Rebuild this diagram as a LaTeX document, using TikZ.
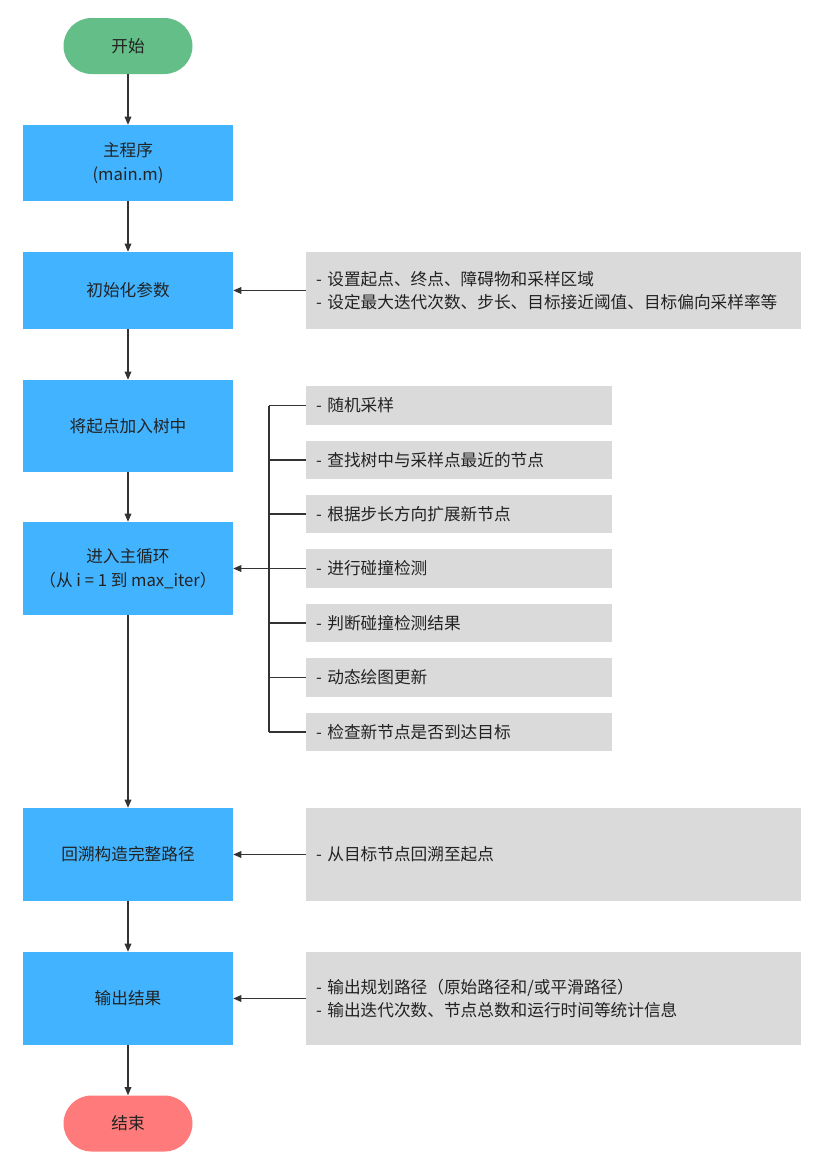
\documentclass[tikz,border=0pt]{standalone}
\usepackage{fontspec}
\setmainfont{Noto Sans CJK SC}
\usetikzlibrary{arrows.meta}
\definecolor{startgreen}{HTML}{63BE87}
\definecolor{stepblue}{HTML}{42B4FF}
\definecolor{notegray}{HTML}{DADADA}
\definecolor{endred}{HTML}{FF7B7B}
\definecolor{linegray}{HTML}{333333}
\definecolor{textdark}{HTML}{222222}
\tikzset{
  terminal/.style={draw=none, rounded corners=21pt, minimum width=96.75pt,
    minimum height=42pt, inner sep=0pt, text=textdark},
  procbox/.style={fill=stepblue, minimum width=157.5pt, inner sep=0pt,
    align=center, text=textdark},
  notebox/.style={fill=notegray, text width=356.25pt, inner xsep=7.5pt,
    inner ysep=0pt, align=left, text=textdark},
  itembox/.style={fill=notegray, text width=214.5pt, inner xsep=7.5pt,
    inner ysep=0pt, minimum height=29pt, align=left, text=textdark},
  flow/.style={draw=linegray, line width=0.8pt, -{Triangle[length=6pt,width=5pt]}},
  tick/.style={draw=linegray, line width=1pt}
}
\begin{document}
\begin{tikzpicture}[x=0.75pt, y=-0.75pt, font=\fontsize{12.5}{17.5}\selectfont]
\useasboundingbox (0,0) rectangle (830,1174);

% main column
\node[terminal, fill=startgreen] (start) at (128,46) {开始};
\node[procbox, minimum height=57pt] (main) at (128,163) {主程序\\(main.m)};
\node[procbox, minimum height=57.75pt] (init) at (128,290.5) {初始化参数};
\node[procbox, minimum height=69pt] (addroot) at (128,426) {将起点加入树中};
\node[procbox, minimum height=69.75pt] (loop) at (128,568.5) {进入主循环\\（从 i = 1 到 max\_iter）};
\node[procbox, minimum height=69.75pt] (back) at (128,854.5) {回溯构造完整路径};
\node[procbox, minimum height=69.75pt] (output) at (128,998.5) {输出结果};
\node[terminal, fill=endred] (end) at (128,1123.5) {结束};

% notes
\node[notebox, minimum height=57.75pt] (initnote) at (553.5,290.5)
  {- 设置起点、终点、障碍物和采样区域\\- 设定最大迭代次数、步长、目标接近阈值、目标偏向采样率等};
\node[notebox, minimum height=69.75pt] (backnote) at (553.5,854.5) {- 从目标节点回溯至起点};
\node[notebox, minimum height=69.75pt] (outnote) at (553.5,998.5)
  {- 输出规划路径（原始路径和/或平滑路径）\\- 输出迭代次数、节点总数和运行时间等统计信息};

% loop steps
\node[itembox] (s1) at (459,405.5) {- 随机采样};
\node[itembox] (s2) at (459,460) {- 查找树中与采样点最近的节点};
\node[itembox] (s3) at (459,514) {- 根据步长方向扩展新节点};
\node[itembox] (s4) at (459,568.5) {- 进行碰撞检测};
\node[itembox] (s5) at (459,623) {- 判断碰撞检测结果};
\node[itembox] (s6) at (459,677.5) {- 动态绘图更新};
\node[itembox] (s7) at (459,732) {- 检查新节点是否到达目标};
\coordinate (brk) at (269,405.5);

% connectors
\draw[flow] (start) -- (main);
\draw[flow] (main) -- (init);
\draw[flow] (init) -- (addroot);
\draw[flow] (addroot) -- (loop);
\draw[flow] (loop) -- (back);
\draw[flow] (back) -- (output);
\draw[flow] (output) -- (end);
\draw[flow] (initnote) -- (init);
\draw[flow] (backnote) -- (back);
\draw[flow] (outnote) -- (output);

\draw[tick] (brk) -- (brk |- s7.west);
\draw[tick] (brk) -- (s1.west);
\draw[tick] (brk |- s2.west) -- (s2.west);
\draw[tick] (brk |- s3.west) -- (s3.west);
\draw[tick] (brk |- s5.west) -- (s5.west);
\draw[tick] (brk |- s6.west) -- (s6.west);
\draw[tick] (brk |- s7.west) -- (s7.west);
\draw[flow] (s4.west) -- (loop.east);
\end{tikzpicture}
\end{document}
